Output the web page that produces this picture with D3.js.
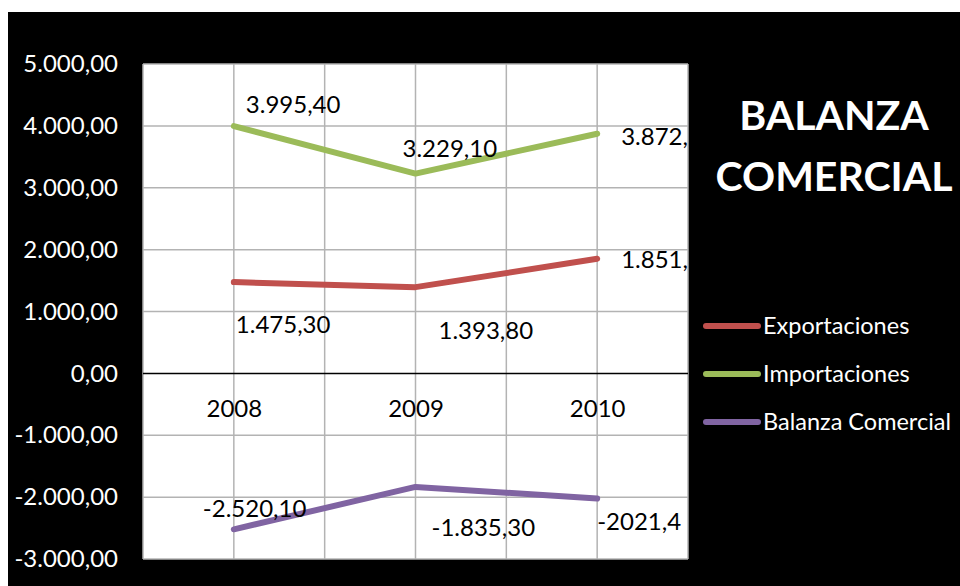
<!DOCTYPE html>
<html>
<head>
<meta charset="utf-8">
<script src="https://d3js.org/d3.v7.min.js"></script>
<style>
  body { margin: 0; background: #fff; }
  text { font-family: Lato, "Open Sans", sans-serif; }
</style>
</head>
<body>
<svg width="960" height="586"></svg>
<script>
// data
var years = ["2008", "2009", "2010"];
var exportaciones = [1475.3, 1393.8, 1851.2];
var importaciones = [3995.4, 3229.1, 3872.6];
var balanza = [-2520.1, -1835.3, -2021.4];
var exportLabels = ["1.475,30", "1.393,80", "1.851,20"];
var importLabels = ["3.995,40", "3.229,10", "3.872,60"];
var balanzaLabels = ["-2.520,10", "-1.835,30", "-2021,4"];
var yTicks = [-3000, -2000, -1000, 0, 1000, 2000, 3000, 4000, 5000];

var svg = d3.select("svg"),
  width = +svg.attr("width"),
  height = +svg.attr("height");

var plot = {left: 143, top: 64, right: 688, bottom: 559};

// label placement (offset from point: dx to text start, dy to text middle)
var series = [
  {name: "Exportaciones", color: "#C0504D", values: exportaciones, labels: exportLabels,
   offsets: [[2, 43], [23, 43], [24, 1]]},
  {name: "Importaciones", color: "#9BBB59", values: importaciones, labels: importLabels,
   offsets: [[12, -22], [-13, -25], [24, 3]]},
  {name: "Balanza Comercial", color: "#8064A2", values: balanza, labels: balanzaLabels,
   offsets: [[-31, -21], [16, 41], [0, 23]]}
];

// background
svg.append("rect").attr("x", 8).attr("y", 12)
  .attr("width", width - 8).attr("height", height - 12)
  .attr("fill", "#000");

svg.append("rect")
  .attr("x", plot.left).attr("y", plot.top)
  .attr("width", plot.right - plot.left).attr("height", plot.bottom - plot.top)
  .attr("fill", "#fff");

var x = d3.scalePoint()
  .domain(years)
  .range([plot.left, plot.right])
  .padding(0.5);

var y = d3.scaleLinear()
  .domain([-3000, 5000])
  .range([plot.bottom, plot.top]);

// gridlines
var half = x.step() / 2;
var vx = [];
years.forEach(function(d, i) {
  if (i == 0) vx.push(x(d) - half);
  vx.push(x(d));
  vx.push(x(d) + half);
});

svg.append("g")
  .selectAll("line")
  .data(vx)
  .enter().append("line")
    .attr("x1", function(d) { return d; })
    .attr("x2", function(d) { return d; })
    .attr("y1", plot.top).attr("y2", plot.bottom)
    .attr("stroke", "#b3b3b3")
    .attr("stroke-width", 1.5);

svg.append("g")
  .selectAll("line")
  .data(yTicks)
  .enter().append("line")
    .attr("x1", plot.left).attr("x2", plot.right)
    .attr("y1", function(d) { return y(d); })
    .attr("y2", function(d) { return y(d); })
    .attr("stroke", function(d) { return d == 0 ? "#000" : "#b3b3b3"; })
    .attr("stroke-width", 1.5);

// y axis labels, spanish number style with plain hyphen
var fmt = function(v) {
  var s = d3.format(",.2f")(Math.abs(v));
  s = s.replace(/,/g, "#").replace(".", ",").replace(/#/g, ".");
  return (v < 0 ? "-" : "") + s;
};

svg.append("g")
  .call(d3.axisLeft(y).tickValues(yTicks).tickSize(0).tickPadding(0).tickFormat(fmt))
  .attr("transform", "translate(118,0)")
  .call(function(g) { g.select(".domain").remove(); })
  .selectAll("text")
    .attr("fill", "#fff")
    .attr("font-size", 24)
    .attr("font-family", "Lato, sans-serif");

// x axis labels at zero line
svg.append("g")
  .attr("transform", "translate(0," + (y(0) + 35) + ")")
  .call(d3.axisBottom(x).tickSize(0).tickPadding(0))
  .call(function(g) { g.select(".domain").remove(); })
  .selectAll("text")
    .attr("fill", "#000")
    .attr("dy", "0.35em")
    .attr("font-size", 24)
    .attr("font-family", "Lato, sans-serif");

// clip for data labels
svg.append("clipPath").attr("id", "plotclip")
  .append("rect")
  .attr("x", plot.left).attr("y", plot.top)
  .attr("width", plot.right - plot.left).attr("height", plot.bottom - plot.top);

var line = d3.line()
  .x(function(d) { return x(d.year); })
  .y(function(d) { return y(d.value); });

series.forEach(function(s) {
  var pts = years.map(function(yr, i) { return {year: yr, value: s.values[i]}; });
  svg.append("path")
    .datum(pts)
    .attr("d", line)
    .attr("fill", "none")
    .attr("stroke", s.color)
    .attr("stroke-width", 6)
    .attr("stroke-linecap", "round")
    .attr("stroke-linejoin", "round");

  svg.append("g")
    .attr("clip-path", "url(#plotclip)")
    .selectAll("text")
    .data(pts)
    .enter().append("text")
      .attr("x", function(d, i) { return x(d.year) + s.offsets[i][0]; })
      .attr("y", function(d, i) { return y(d.value) + s.offsets[i][1]; })
      .attr("dy", "0.35em")
      .attr("font-size", 24)
      .attr("fill", "#000")
      .text(function(d, i) { return s.labels[i]; });
});

// title
var title = svg.append("text")
  .attr("x", 834)
  .attr("text-anchor", "middle")
  .attr("fill", "#fff")
  .attr("font-weight", "bold")
  .attr("font-size", 41);
title.append("tspan").attr("x", 834).attr("y", 130).text("BALANZA");
title.append("tspan").attr("x", 834).attr("y", 191).text("COMERCIAL");

// legend
var legend = svg.append("g").attr("transform", "translate(703,326)");
var rows = legend.selectAll("g")
  .data(series)
  .enter().append("g")
    .attr("transform", function(d, i) { return "translate(0," + (i * 48) + ")"; });

rows.append("line")
  .attr("x1", 3).attr("x2", 55)
  .attr("stroke", function(d) { return d.color; })
  .attr("stroke-width", 6)
  .attr("stroke-linecap", "round");

rows.append("text")
  .attr("x", 60)
  .attr("dy", "0.35em")
  .attr("font-size", 23.5)
  .attr("fill", "#fff")
  .text(function(d) { return d.name; });
</script>
</body>
</html>
